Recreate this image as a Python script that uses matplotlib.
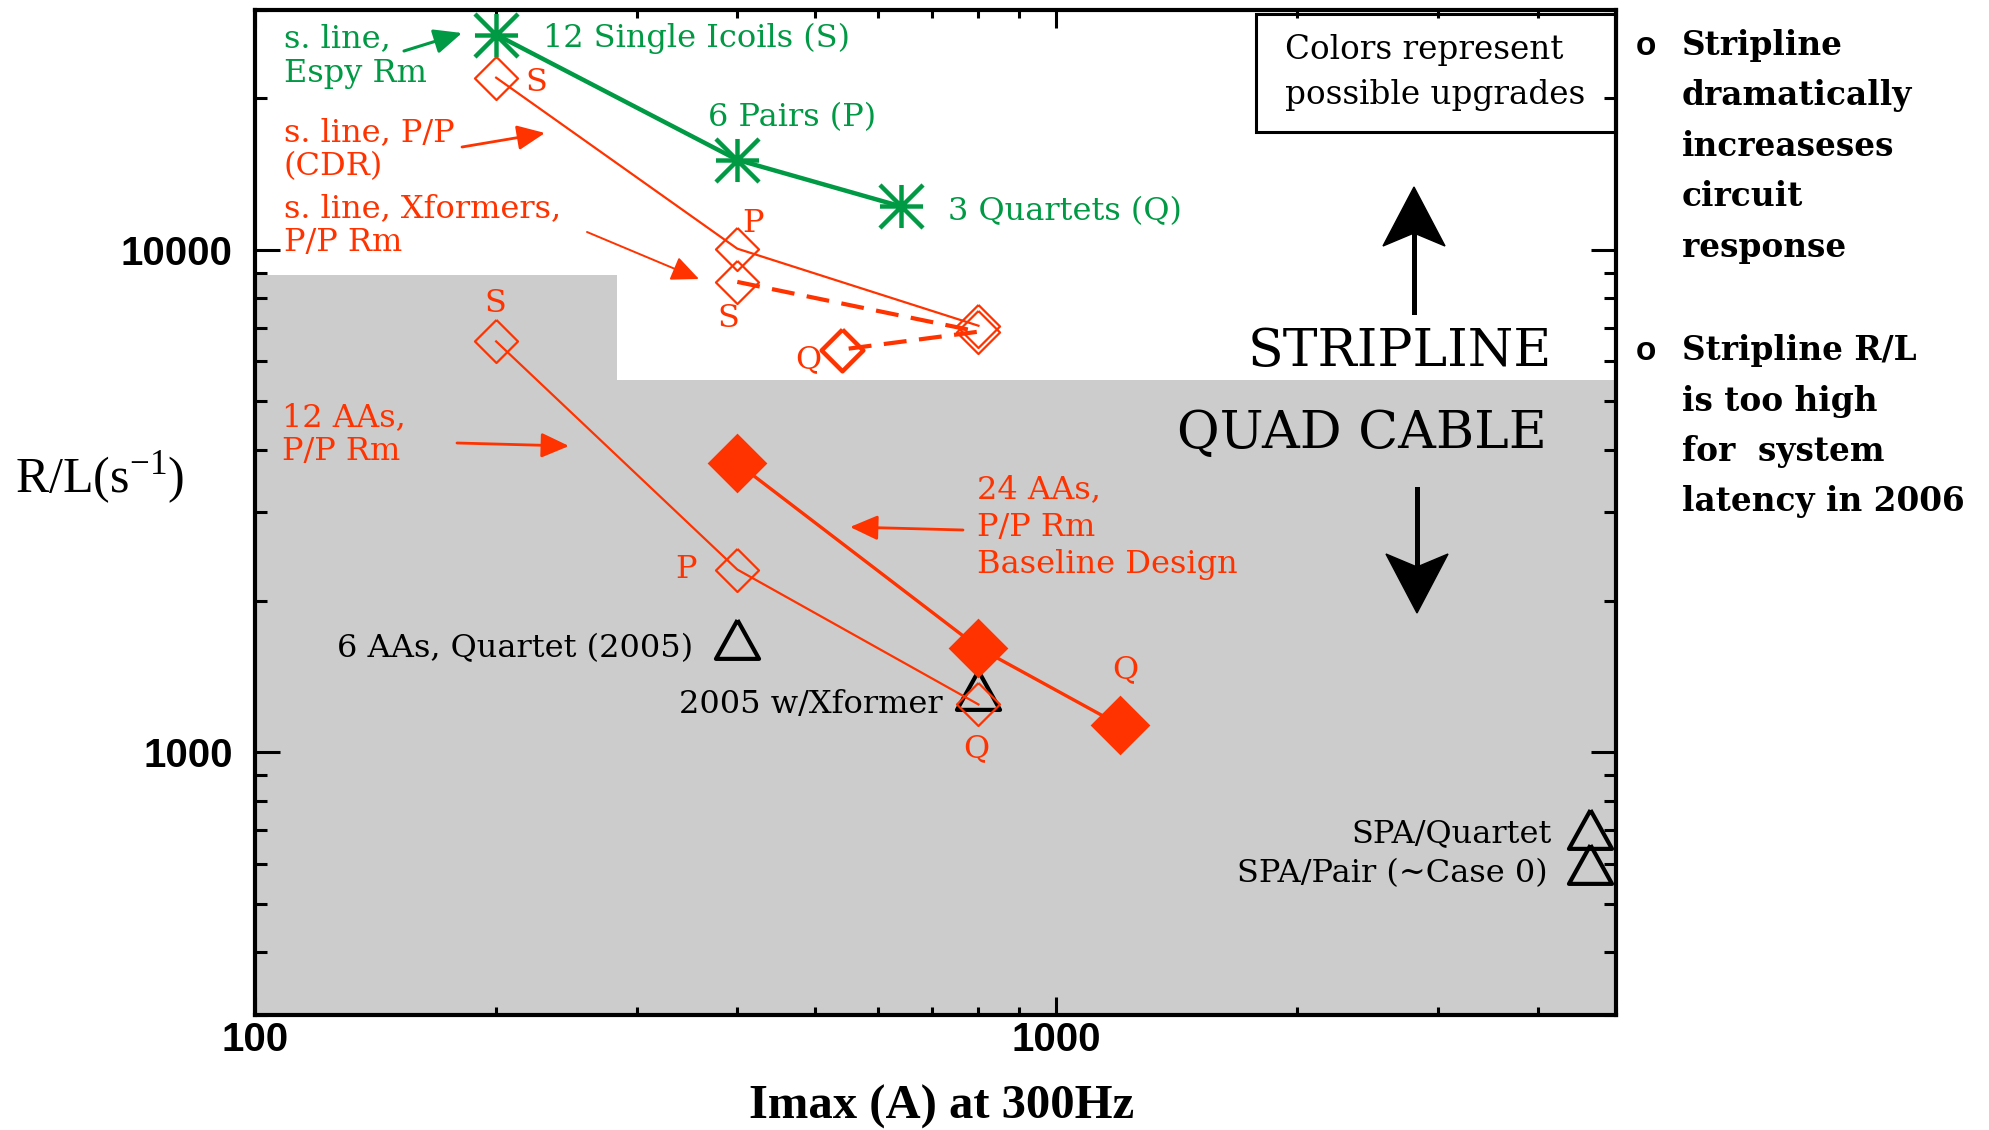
# R/L versus Imax chart: stripline vs quad cable options
import matplotlib
matplotlib.use('Agg')
import matplotlib.pyplot as plt
from matplotlib.path import Path
from matplotlib.patches import Polygon, Rectangle

# ============================================================
# DATA
# ============================================================
# green: single line, Espy Rm  (S, P, Q)
espy_x = [200, 400, 640]
espy_y = [26800, 15100, 12200]

# red thin: single line, P/P (CDR)
cdr_x = [200, 400, 800]
cdr_y = [22000, 10050, 7060]

# red dashed: single line, Xformers, P/P Rm  (S, P, Q)
xfm_x = [400, 800, 540]
xfm_y = [8630, 6870, 6330]

# red thin: 12 AAs, P/P Rm
aa12_x = [200, 400, 800]
aa12_y = [6570, 2310, 1245]

# red filled: 24 AAs, P/P Rm baseline design
aa24_x = [400, 800, 1200]
aa24_y = [3760, 1615, 1133]

# black triangles: 2005 quartet, 2005 w/Xformer, SPA/Quartet, SPA/Pair
tri_x = [400, 800, 4640, 4640]
tri_y = [1680, 1332, 705, 600]

# gray "quad cable" region (upper edge)
gray_x = [100, 283, 283, 5000]
gray_top = [8900, 8900, 5500, 5500]

# ============================================================
# STYLE
# ============================================================
W, H = 1989, 1130
RED = '#ff3300'
GREEN = '#009944'
GRAY = '#cccccc'
SERIF = 'DejaVu Serif'
TXT = 23

diamond = [(0, 1), (1, 0), (0, -1), (-1, 0), (0, 1)]
triangle = [(0, 0.9), (1, -0.9), (-1, -0.9), (0, 0.9)]
asterisk = Path([(-1, 0), (1, 0), (0, -1), (0, 1),
                 (-1, -1), (1, 1), (-1, 1), (1, -1)],
                [Path.MOVETO, Path.LINETO] * 4)


def fp(x, y):
    # pixel position (top-left origin) -> figure fraction
    return x / W, 1 - y / H


def label(x, y, s, color='black', size=TXT, ha='left', weight='normal', family=SERIF):
    fx, fy = fp(x, y)
    fig.text(fx, fy, s, color=color, fontsize=size, ha=ha, va='baseline',
             fontweight=weight, family=family)


def pointer(x0, y0, x1, y1, color, lw=2.0):
    ax.annotate('', xy=(x1, H - y1), xycoords='figure pixels',
                xytext=(x0, H - y0), textcoords='figure pixels',
                annotation_clip=False,
                arrowprops=dict(arrowstyle='-|>,head_length=0.85,head_width=0.38',
                                color=color, lw=lw, mutation_scale=20,
                                shrinkA=0, shrinkB=0))


def big_arrow(x, y_tail, y_tip):
    s = 1 if y_tip > y_tail else -1
    base = y_tip - s * 59
    notch = y_tip - s * 46
    line = plt.Line2D([fp(x, y_tail)[0], fp(x, notch)[0]],
                      [fp(x, y_tail)[1], fp(x, notch)[1]],
                      transform=fig.transFigure, color='black', lw=3.6)
    fig.add_artist(line)
    head = Polygon([fp(x, y_tip), fp(x + 31, base), fp(x, notch), fp(x - 31, base)],
                   closed=True, transform=fig.transFigure, fc='black', ec='black', lw=1)
    fig.add_artist(head)


# ============================================================
# FIGURE
# ============================================================
fig = plt.figure(figsize=(W / 100, H / 100), dpi=100)
l, b = fp(255, 1015)
r, t = fp(1616, 10)
ax = fig.add_axes([l, b, r - l, t - b])
ax.set_xscale('log')
ax.set_yscale('log')
ax.set_xlim(100, 5000)
ax.set_ylim(300, 30000)

ax.fill_between(gray_x, 300, gray_top, color=GRAY, lw=0, zorder=0)

# triangles first, red symbols sit on top of them
ax.plot(tri_x, tri_y, ls='none', marker=triangle, ms=31, mfc='none',
        mec='black', mew=3, zorder=3)

ax.plot(espy_x, espy_y, color=GREEN, lw=3.2, marker=asterisk, ms=31,
        mfc='none', mec=GREEN, mew=3.2, zorder=4)

ax.plot(cdr_x, cdr_y, color=RED, lw=1.6, marker=diamond, ms=31,
        mfc='none', mec=RED, mew=1.6, zorder=4)

ax.plot(xfm_x, xfm_y, color=RED, lw=3, ls=(0, (5.5, 3)), zorder=4)
ax.plot(xfm_x[:2], xfm_y[:2], ls='none', marker=diamond, ms=31,
        mfc='none', mec=RED, mew=1.6, zorder=4)
ax.plot(xfm_x[2:], xfm_y[2:], ls='none', marker=diamond, ms=30,
        mfc='none', mec=RED, mew=3.2, zorder=4)

ax.plot(aa12_x, aa12_y, color=RED, lw=1.6, marker=diamond, ms=31,
        mfc='none', mec=RED, mew=1.6, zorder=4)

ax.plot(aa24_x, aa24_y, color=RED, lw=2.4, marker=diamond, ms=43,
        mfc=RED, mec=RED, mew=0, zorder=5)

# ---- axes styling
for sp in ax.spines.values():
    sp.set_linewidth(3)
ax.tick_params(which='both', direction='in', top=True, right=True, width=2.2)
ax.tick_params(axis='x', which='major', length=13, pad=4)
ax.tick_params(axis='x', which='minor', length=6)
ax.tick_params(axis='y', which='major', length=18, pad=16)
ax.tick_params(axis='y', which='minor', length=8.5)
ax.set_xticks([100, 1000])
ax.set_xticklabels(['100', '1000'])
ax.set_yticks([1000, 10000])
ax.set_yticklabels(['1000', '10000'])
ax.yaxis.set_minor_formatter(plt.NullFormatter())
ax.xaxis.set_minor_formatter(plt.NullFormatter())
for lab in ax.get_xticklabels() + ax.get_yticklabels():
    lab.set_fontfamily('Liberation Sans')
    lab.set_fontweight('bold')
    lab.set_fontsize(29)

fx, fy = fp(15, 493)
fig.text(fx, fy, r'R/L(s$^{\mathregular{-1}}$)', family='Liberation Serif',
         fontsize=36, va='baseline')
label(942, 1119, 'Imax (A) at 300Hz', ha='center', size=35, weight='bold',
      family='Liberation Serif')

# ---- green annotations
label(284, 47, 's. line,', GREEN)
label(284, 82, 'Espy Rm', GREEN)
label(543, 47, '12 Single Icoils (S)', GREEN)
label(708, 126, '6 Pairs (P)', GREEN)
label(948, 220, '3 Quartets (Q)', GREEN)
pointer(404, 51, 462, 33, GREEN, lw=2.2)

# ---- red annotations
label(525, 91, 'S', RED)
label(284, 141, 's. line, P/P', RED)
label(284, 175, '(CDR)', RED)
pointer(462, 147, 545, 133, RED)
label(284, 217, 's. line, Xformers,', RED)
label(284, 251, 'P/P Rm', RED)
pointer(587, 232, 699, 279, RED, lw=1.4)
label(742, 232, 'P', RED)
label(717, 327, 'S', RED)
label(795, 368, 'Q', RED)
label(495, 312, 'S', RED, ha='center')
label(282, 426, '12 AAs,', RED)
label(282, 460, 'P/P Rm', RED)
pointer(457, 443, 569, 446, RED)
label(675, 578, 'P', RED)
label(977, 498, '24 AAs,', RED)
label(977, 536, 'P/P Rm', RED)
label(977, 573, 'Baseline Design', RED)
pointer(963, 530, 850, 527, RED)
label(963, 757, 'Q', RED)
label(1112, 678, 'Q', RED)

# ---- black annotations
label(693, 657, '6 AAs, Quartet (2005)', ha='right')
label(943, 713, '2005 w/Xformer', ha='right')
label(1552, 842, 'SPA/Quartet', ha='right')
label(1548, 882, 'SPA/Pair (~Case 0)', ha='right')
label(1248, 366, 'STRIPLINE', size=37.5)
label(1547, 448, 'QUAD CABLE', size=37.5, ha='right')
big_arrow(1414, 312, 187)
big_arrow(1417, 489, 613)

bx0, by0 = fp(1256, 132)
bx1, by1 = fp(1616, 14)
fig.add_artist(Rectangle((bx0, by0), bx1 - bx0, by1 - by0, transform=fig.transFigure,
                         fill=False, ec='black', lw=2.2))
label(1285, 59, 'Colors represent', size=23.5)
label(1285, 104, 'possible upgrades', size=23.5)

# ---- bullet notes on the right
notes1 = ['Stripline', 'dramatically', 'increaseses', 'circuit', 'response']
notes2 = ['Stripline R/L', 'is too high', 'for  system', 'latency in 2006']
for lines, y0 in [(notes1, 55), (notes2, 360)]:
    label(1636, y0, 'o', size=24, weight='bold', family='Liberation Sans')
    for i, s in enumerate(lines):
        label(1682, y0 + i * 50.5, s, size=23.6, weight='bold')

fig.savefig('out.png', dpi=100)
